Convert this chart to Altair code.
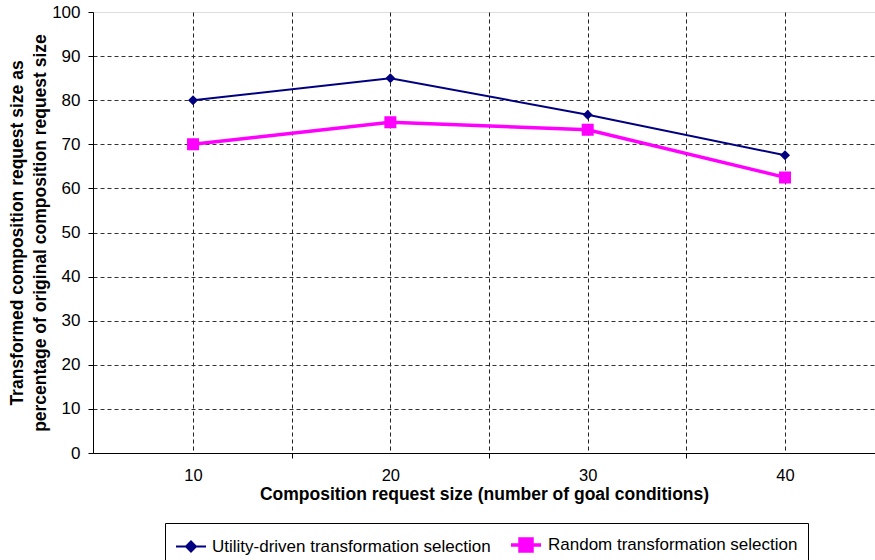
import altair as alt
import pandas as pd

# ---- data ----
request_sizes = [10, 20, 30, 40]
utility_driven = [80, 85, 76.7, 67.5]
random_selection = [70, 75, 73.3, 62.5]
series_names = ["Utility-driven transformation selection", "Random transformation selection"]
series_colors = ["#000080", "#FF00FF"]
y_ticks = [0, 10, 20, 30, 40, 50, 60, 70, 80, 90, 100]
x_ticks = [10, 15, 20, 25, 30, 35, 40]

# line + marker symbols (line segment shows in legend only)
diamond = "M-1.5,0L1.5,0M0,-0.5L0.5,0L0,0.5L-0.5,0Z"
square = "M-1.5,0L1.5,0M-0.6,-0.6L0.6,-0.6L0.6,0.6L-0.6,0.6Z"

rows = []
for name, vals in zip(series_names, [utility_driven, random_selection]):
    for x, v in zip(request_sizes, vals):
        rows.append({"size": x, "value": v, "series": name})
df = pd.DataFrame(rows)

FONT = "Liberation Sans"

x_enc = alt.X(
    "size:Q",
    scale=alt.Scale(domain=[4.93, 44.56], nice=False, zero=False),
    axis=alt.Axis(
        values=x_ticks,
        labelExpr="datum.value % 10 == 0 ? datum.value : ''",
        labelOverlap=False,
        tickOpacity={"condition": {"test": "datum.value % 10 == 0", "value": 0}, "value": 1},
        tickSize=5,
        tickColor="black",
        labelPadding=9,
        labelFontSize=16.5,
        labelFont=FONT,
        labelColor="black",
        domainColor="black",
        title="Composition request size (number of goal conditions)",
        titleFont=FONT,
        titleFontSize=17.5,
        titleFontWeight="bold",
        titleColor="black",
        titlePadding=2,
        grid=True,
        gridColor="#222222",
        gridDash=[4, 3],
        gridWidth=1,
    ),
)

y_enc = alt.Y(
    "value:Q",
    scale=alt.Scale(domain=[0, 100], nice=False),
    axis=alt.Axis(
        values=y_ticks,
        tickSize=5,
        tickColor="black",
        labelPadding=8,
        labelFontSize=17,
        labelFont=FONT,
        labelColor="black",
        domainColor="black",
        title=["Transformed composition request size as",
               "percentage of original composition request size"],
        titleFont=FONT,
        titleFontSize=17.5,
        titleFontWeight="bold",
        titleColor="black",
        titleLineHeight=23,
        titlePadding=2,
        grid=True,
        gridColor="#333333",
        gridDash=[4, 3],
        gridWidth=1,
        gridOpacity={"condition": {"test": "datum.value >= 100 || datum.value <= 0", "value": 0}, "value": 1},
    ),
)

color_scale = alt.Scale(domain=series_names, range=series_colors)
shape_scale = alt.Scale(domain=series_names, range=[diamond, square])

legend = alt.Legend(
    title=None,
    orient="none",
    legendX=72,
    legendY=511,
    direction="horizontal",
    strokeColor="black",
    fillColor="white",
    padding=10,
    symbolSize=400,
    symbolOffset=5,
    labelOffset=10,
    columnPadding=13,
    labelFont=FONT,
    labelFontSize=17,
    labelColor="black",
    labelLimit=400,
    symbolStrokeColor=alt.ExprRef("scale('color', datum.value)"),
    symbolStrokeWidth=alt.ExprRef("datum.value === 'Random transformation selection' ? 3 : 2"),
)

base = alt.Chart(df)

lines = base.mark_line().encode(
    x=x_enc,
    y=y_enc,
    color=alt.Color("series:N", scale=color_scale, legend=legend),
    strokeWidth=alt.StrokeWidth("series:N", scale=alt.Scale(domain=series_names, range=[2, 3.5]), legend=None),
)

points = base.mark_point(filled=True, size=400, opacity=1).encode(
    x="size:Q",
    y="value:Q",
    color=alt.Color("series:N", scale=color_scale, legend=legend),
    shape=alt.Shape("series:N", scale=shape_scale, legend=legend),
)

chart = (
    alt.layer(lines, points)
    .properties(
        width=782,
        height=441,
        autosize=alt.AutoSizeParams(type="none"),
        padding={"left": 93, "top": 12, "right": 0, "bottom": 107},
    )
    .configure_view(stroke=None)
    .configure(background="white")
)

chart.save("out.html", embed_options={"renderer": "svg", "actions": False})
